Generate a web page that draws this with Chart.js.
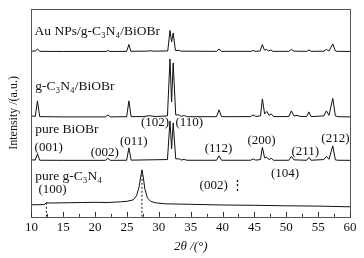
<!DOCTYPE html>
<html>
<head>
<meta charset="utf-8">
<script src="https://cdn.jsdelivr.net/npm/chart.js@4.4.0/dist/chart.umd.min.js"></script>
<style>
  html, body { margin: 0; padding: 0; background: #fff; }
</style>
</head>
<body>
<canvas id="xrdChart" width="364" height="258"></canvas>
<script>
// X range (2θ, degrees) and labelled ticks
const xMin = 10;
const xMax = 60;
const xMajorTicks = [10, 15, 20, 25, 30, 35, 40, 45, 50, 55, 60];

// Patterns: [2θ, intensity (a.u., curves stacked with offsets)]
const auNpsComposite = [
  [10, 166], [10.6, 165.8], [10.95, 168], [11.3, 165.6], [15, 165.5], [21.7, 165.5], [22.0, 166.5], [22.3, 165.5],
  [24.95, 165.6], [25.3, 172.5], [25.6, 165.7], [28, 165.8], [28.6, 166.2], [29.2, 165.8], [31.4, 166],
  [31.75, 186.5], [32.0, 175], [32.25, 184], [32.6, 166.5], [33.2, 166.6], [33.5, 165.8], [39.1, 165.6],
  [39.45, 168], [39.8, 165.6], [44.5, 165.6], [44.8, 166.6], [45.1, 165.6], [45.9, 166], [46.25, 172.5],
  [46.55, 167], [46.9, 167.5], [47.2, 166], [47.6, 167], [47.9, 165.6], [50.4, 165.6], [50.8, 167.5],
  [51.2, 165.8], [53.2, 165.6], [53.55, 167], [53.9, 165.6], [55.9, 165.8], [56.3, 167.5], [56.7, 166],
  [57.3, 173], [57.7, 166], [58, 165.6], [60, 165.5]
];

const gcnBiobr = [
  [10, 101], [10.6, 100.5], [10.95, 116], [11.3, 100.3], [15, 100], [21.6, 100], [22.0, 102], [22.4, 100],
  [24.95, 100.2], [25.3, 116], [25.65, 100.3], [27.5, 100.3], [28.5, 101.2], [29.5, 100.3], [31.35, 101],
  [31.75, 158], [32.0, 115], [32.25, 154], [32.65, 102], [33.2, 102], [33.5, 100.5], [34.0, 101.5],
  [34.4, 100.2], [39.05, 100.2], [39.45, 107], [39.85, 100.2], [44.4, 100.3], [44.8, 102], [45.2, 100.5],
  [45.95, 101], [46.25, 118], [46.6, 103], [46.95, 105.5], [47.3, 101.5], [47.65, 103], [48, 100.3],
  [50.4, 100.3], [50.8, 106], [51.2, 101], [51.7, 101.5], [52.2, 100.5], [53.2, 100.3], [53.55, 105],
  [53.9, 100.3], [55.9, 101], [56.3, 106], [56.7, 101.5], [57.3, 118.5], [57.7, 101], [58.1, 100.2], [60, 100]
];

const pureBiobr = [
  [10, 57], [10.6, 56.8], [10.95, 63], [11.3, 56.6], [15, 56.5], [21.6, 56.5], [22.0, 58.5], [22.4, 56.5],
  [24.95, 56.6], [25.3, 69], [25.65, 56.7], [31.35, 57.3], [31.75, 96], [32.0, 68], [32.25, 94], [32.65, 58],
  [33.2, 58], [33.5, 56.8], [34.0, 57.5], [34.4, 56.6], [39.05, 56.6], [39.45, 61], [39.85, 56.6],
  [44.4, 56.6], [44.8, 58], [45.2, 56.7], [45.95, 57.3], [46.25, 69.5], [46.6, 59], [46.95, 59.5],
  [47.3, 57.3], [47.65, 58.5], [48, 56.6], [50.4, 56.6], [50.8, 60.5], [51.2, 57], [53.2, 56.6],
  [53.55, 59.5], [53.9, 56.6], [55.9, 57.3], [56.3, 60.5], [56.7, 57.5], [57.3, 71], [57.7, 57],
  [58.1, 56.6], [60, 56.5]
];

const pureGcn = [
  [10, 12], [12.0, 12.2], [12.35, 14], [12.8, 13.8], [15, 14], [18, 14.3], [20, 14.5], [22, 14.3],
  [24, 15], [25, 15.5], [26, 17], [26.5, 21], [26.9, 30], [27.15, 40], [27.35, 47], [27.55, 40],
  [27.8, 28], [28.2, 19], [28.7, 15.5], [29.5, 14], [31, 13], [35, 12.5], [40, 11.8], [45, 11.5],
  [50, 11], [55, 10.7], [60, 10]
];

// Dashed guide lines for the g-C3N4 reflections
const gcnGuide100 = [[12.35, 0], [12.35, 14]];
const gcnGuide002 = [[27.35, 0], [27.35, 47]];

// Sample names (slightly larger) and (hkl) labels, placed in data units
const sampleLabels = [
  { text: 'Au NPs/g-C₃N₄/BiOBr', x: 10.5, y: 186 },
  { text: 'g-C₃N₄/BiOBr', x: 10.6, y: 130 },
  { text: 'pure BiOBr', x: 10.6, y: 87 },
  { text: 'pure g-C₃N₄', x: 10.6, y: 40 }
];
const hklLabels = [
  { text: '(001)', x: 10.5, y: 69 },
  { text: '(002)', x: 19.3, y: 64 },
  { text: '(011)', x: 23.9, y: 75 },
  { text: '(102)', x: 27.2, y: 94 },
  { text: '(110)', x: 32.6, y: 94 },
  { text: '(112)', x: 37.2, y: 68 },
  { text: '(200)', x: 43.9, y: 76 },
  { text: '(211)', x: 50.8, y: 65 },
  { text: '(212)', x: 55.5, y: 78 },
  { text: '(104)', x: 47.6, y: 43 },
  { text: '(100)', x: 11.1, y: 27 },
  { text: '(002) ⋮', x: 36.4, y: 31 }
];

const serif = '"Liberation Serif", "DejaVu Serif", serif';

// Plot frame plus inward ticks on the bottom axis
const framePlugin = {
  id: 'frame',
  afterDraw(chart) {
    const { ctx, chartArea: a, scales } = chart;
    ctx.save();
    ctx.strokeStyle = '#555';
    ctx.lineWidth = 1;
    ctx.strokeRect(Math.round(a.left) + 0.5, Math.round(a.top) + 0.5,
      Math.round(a.right - a.left), Math.round(a.bottom - a.top));
    ctx.strokeStyle = '#333';
    scales.x.ticks.forEach(t => {
      const px = Math.round(scales.x.getPixelForValue(t.value)) + 0.5;
      const len = xMajorTicks.includes(t.value) ? 5 : 3;
      ctx.beginPath();
      ctx.moveTo(px, a.bottom);
      ctx.lineTo(px, a.bottom - len);
      ctx.stroke();
    });
    ctx.restore();
  }
};

// Text labels inside the plot
const labelPlugin = {
  id: 'plotLabels',
  afterDatasetsDraw(chart) {
    const { ctx, scales } = chart;
    const put = (list, size) => {
      ctx.font = size + 'px ' + serif;
      list.forEach(l => {
        ctx.fillText(l.text, scales.x.getPixelForValue(l.x), scales.y.getPixelForValue(l.y));
      });
    };
    ctx.save();
    ctx.fillStyle = '#111';
    ctx.textAlign = 'left';
    ctx.textBaseline = 'middle';
    put(sampleLabels, 13.5);
    put(hklLabels, 13);
    ctx.restore();
  }
};

const lineStyle = { borderColor: '#111', borderWidth: 1, pointRadius: 0, fill: false, tension: 0 };

const xrdChart = new Chart(document.getElementById('xrdChart').getContext('2d'), {
  type: 'line',
  data: {
    datasets: [
      { label: 'Au NPs/g-C3N4/BiOBr', data: auNpsComposite, ...lineStyle },
      { label: 'g-C3N4/BiOBr', data: gcnBiobr, ...lineStyle },
      { label: 'pure BiOBr', data: pureBiobr, ...lineStyle },
      { label: 'pure g-C3N4', data: pureGcn, ...lineStyle },
      { label: '(100) guide', data: gcnGuide100, ...lineStyle, borderDash: [2, 2] },
      { label: '(002) guide', data: gcnGuide002, ...lineStyle, borderDash: [2, 2] }
    ]
  },
  options: {
    responsive: false,
    animation: false,
    devicePixelRatio: 1,
    layout: { padding: { left: 3, right: 14, top: 9, bottom: 1 } },
    plugins: { legend: { display: false }, tooltip: { enabled: false } },
    scales: {
      x: {
        type: 'linear',
        min: xMin,
        max: xMax,
        grid: { display: false, drawTicks: false },
        border: { display: false },
        ticks: {
          stepSize: 2.5,
          autoSkip: false,
          maxRotation: 0,
          padding: 3,
          color: '#111',
          font: { family: serif, size: 13 },
          callback: v => (xMajorTicks.includes(v) ? v : '')
        },
        title: {
          display: true,
          text: '2θ /(°)',
          color: '#111',
          padding: { top: 0, bottom: 3 },
          font: { family: serif, size: 13, style: 'italic' }
        }
      },
      y: {
        min: 0,
        max: 208,
        grid: { display: false, drawTicks: false },
        border: { display: false },
        ticks: { display: false },
        title: {
          display: true,
          text: 'Intensity /(a.u.)',
          color: '#111',
          padding: { top: 4, bottom: 10 },
          font: { family: serif, size: 12 }
        }
      }
    }
  },
  plugins: [framePlugin, labelPlugin]
});
</script>
</body>
</html>
